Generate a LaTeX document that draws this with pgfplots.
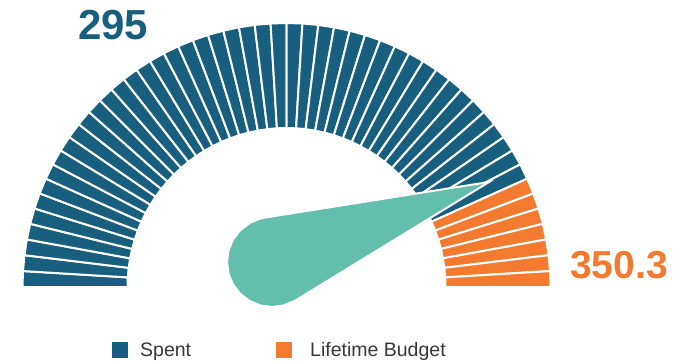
\documentclass[border=0pt]{standalone}
\usepackage{pgfplots}
\pgfplotsset{compat=1.18}
\usepackage{fontspec}
\setmainfont{Liberation Sans}
\definecolor{gblue}{RGB}{23,94,127}
\definecolor{gorange}{RGB}{243,122,47}
\definecolor{gteal}{RGB}{99,190,171}
\definecolor{ltext}{RGB}{55,55,55}
\begin{document}
\begin{tikzpicture}
\begin{axis}[
  width=684pt, height=361pt, scale only axis,
  xmin=0, xmax=684, ymin=0, ymax=361, y dir=reverse,
  hide axis, clip=false,
]
% invisible frame to fix the picture size
\addplot[draw=none, forget plot] coordinates {(0,0) (684,361)};
% gauge segments: 52 segments, 45 spent (blue), 7 remaining (orange)
\pgfplotsinvokeforeach{0,...,51}{
  \pgfmathsetmacro\aA{180-#1*180/52}
  \pgfmathsetmacro\aB{180-(#1+1)*180/52}
  \pgfmathsetmacro\xA{286.5+159*cos(\aA)}
  \pgfmathsetmacro\yA{287-159*sin(\aA)}
  \pgfmathsetmacro\xB{286.5+264*cos(\aA)}
  \pgfmathsetmacro\yB{287-264*sin(\aA)}
  \pgfmathsetmacro\xC{286.5+264*cos(\aB)}
  \pgfmathsetmacro\yC{287-264*sin(\aB)}
  \pgfmathsetmacro\xD{286.5+159*cos(\aB)}
  \pgfmathsetmacro\yD{287-159*sin(\aB)}
  \ifnum#1<45 \def\col{gblue}\else\def\col{gorange}\fi
  \edef\temp{\noexpand\addplot[fill=\col, draw=white, line width=2pt, forget plot] coordinates {(\xA,\yA) (\xB,\yB) (\xC,\yC) (\xD,\yD)} -- cycle;}
  \temp
}
% needle
\addplot[fill=gteal, draw=white, line width=2pt, forget plot] coordinates {
 (489,182) (295.5,300.4) (283.6,305.5) (272,307) (260.4,305.5) (249.5,301.0)
 (240.2,293.8) (233.0,284.5) (228.5,273.6) (227,262) (228.5,250.4) (233.0,239.5)
 (240.2,230.2) (249.5,223.0) (260.4,218.5) (264.9,217.6)} -- cycle;
% legend
\addplot[only marks, mark=square*, mark size=7.5pt, color=gblue, mark options={draw=none}] coordinates {(119.2,349.2)};
\addplot[only marks, mark=square*, mark size=7.5pt, color=gorange, mark options={draw=none}] coordinates {(283.2,349.2)};
\node[anchor=base west, inner sep=0pt, text=ltext, font=\fontsize{19.5}{19.5}\selectfont] at (axis cs:140,356) {Spent};
\node[anchor=base west, inner sep=0pt, text=ltext, font=\fontsize{19.5}{19.5}\selectfont] at (axis cs:310,356) {Lifetime Budget};
% value labels
\node[anchor=base west, inner sep=0pt, text=gblue, font=\bfseries\fontsize{42}{42}\selectfont] at (axis cs:78,39.5) {295};
\node[anchor=base west, inner sep=0pt, text=gorange, font=\bfseries\fontsize{39}{39}\selectfont] at (axis cs:570,278) {350.3};
\end{axis}
\end{tikzpicture}
\end{document}
